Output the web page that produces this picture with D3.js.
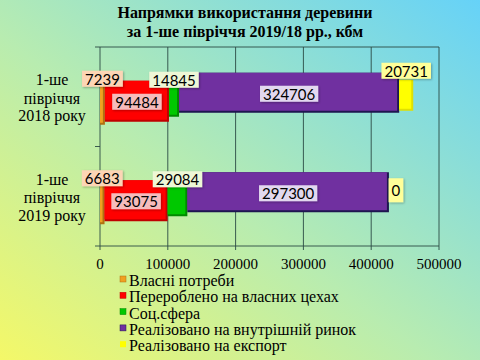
<!DOCTYPE html>
<html><head><meta charset="utf-8">
<script src="https://cdn.jsdelivr.net/npm/d3@7"></script>
<style>html,body{margin:0;padding:0;}svg{display:block;}</style>
</head><body>
<svg id="chart" width="480" height="360"></svg>
<script>
const categories = ["1-ше півріччя 2018 року", "1-ше півріччя 2019 року"];
const seriesNames = ["Власні потреби", "Перероблено на власних цехах", "Соц.сфера", "Реалізовано на внутрішній ринок", "Реалізовано на експорт"];
const ownNeeds   = [7239, 6683];
const processed  = [94484, 93075];
const social     = [14845, 29084];
const domestic   = [324706, 297300];
const exportVals = [20731, 0];
const xTicks = [0, 100000, 200000, 300000, 400000, 500000];
const titleLines = ["Напрямки використання деревини", "за 1-ше півріччя 2019/18 рр., кбм"];

const seriesValues = [ownNeeds, processed, social, domestic, exportVals];
const colors   = ["#f0a020", "#ff0000", "#00c800", "#7030a0", "#ffff00"];
const edges    = ["#b07010", "#c00000", "#008a00", "#1e1650", "#e0e000"];
const lblFill  = ["#fcd5b5", "#f6bcbc", "#eef7d6", "#e2d8ef", "#ffff99"];
// vertical extents (relative to band centre) mimicking the 3D look
const barTop = [-17, -16, -9, -24, -17];
const barBot = [28, 25, 20, 16, 14];
const lblDy  = [-18, 5, -17, -3, -26];

const svg = d3.select("#chart");
const defs = svg.append("defs");
const bg = defs.append("linearGradient").attr("id","bg").attr("x1","0").attr("y1","1").attr("x2","1").attr("y2","0");
bg.append("stop").attr("offset","0").attr("stop-color","#f4f868");
bg.append("stop").attr("offset","0.45").attr("stop-color","#b8ecb0");
bg.append("stop").attr("offset","1").attr("stop-color","#66d2f8");
const sh = defs.append("filter").attr("id","sh").attr("x","-20%").attr("y","-20%").attr("width","140%").attr("height","160%");
sh.append("feDropShadow").attr("dx",1).attr("dy",1).attr("stdDeviation",0.8).attr("flood-color","#000").attr("flood-opacity",0.3);
svg.append("rect").attr("width",480).attr("height",360).attr("fill","url(#bg)");

const x = d3.scaleLinear().domain([0, 500000]).range([100, 439]);
const y = d3.scaleBand().domain(categories).range([47, 246]).padding(0);

// grid
const g = svg.append("g");
g.selectAll("line.grid").data(xTicks).join("line")
  .attr("x1", d => x(d)).attr("x2", d => x(d)).attr("y1", 47).attr("y2", 250)
  .attr("stroke", "#2a4a44").attr("stroke-width", 0.9);
g.append("line").attr("x1", 95).attr("x2", 439).attr("y1", 47).attr("y2", 47).attr("stroke","#2a4a44").attr("stroke-width",0.9);
g.append("line").attr("x1", 95).attr("x2", 439).attr("y1", 246).attr("y2", 246).attr("stroke","#2a4a44").attr("stroke-width",0.9);
g.append("line").attr("x1", 95).attr("x2", 100).attr("y1", y(categories[1])).attr("y2", y(categories[1])).attr("stroke","#2a4a44").attr("stroke-width",0.9);

// tick labels
g.selectAll("text.tick").data(xTicks).join("text")
  .attr("x", d => x(d)).attr("y", 269).attr("text-anchor","middle")
  .attr("font-family","'Liberation Serif', serif").attr("font-size",15).attr("fill","#000")
  .text(d => d);

// category labels
categories.forEach(c => {
  const parts = [c.split(" ")[0], c.split(" ")[1], c.split(" ").slice(2).join(" ")];
  const cy = y(c) + y.bandwidth()/2;
  const t = svg.append("text").attr("text-anchor","middle").attr("font-family","'Liberation Serif', serif").attr("font-size",16).attr("fill","#000");
  [-11.5, 7, 24.5].forEach((dy,i) => t.append("tspan").attr("x",52).attr("y",cy+dy).text(parts[i]));
});

// bars
const bars = svg.append("g");
const labels = svg.append("g");
categories.forEach((c, ci) => {
  const cy = y(c) + y.bandwidth()/2;
  let acc = 0;
  seriesValues.forEach((vals, si) => {
    const v = vals[ci];
    const x0 = x(acc), x1 = x(acc + v);
    acc += v;
    const h = barBot[si] - barTop[si];
    if (v > 0) {
      bars.append("rect").attr("x", x0).attr("y", cy + barTop[si]).attr("width", x1 - x0).attr("height", h)
        .attr("fill", edges[si]);
      bars.append("rect").attr("x", x0).attr("y", cy + barTop[si]).attr("width", Math.max(0, x1 - x0 - 2)).attr("height", h - 2)
        .attr("fill", colors[si]);
    }
    // label
    const txt = String(v);
    let lx = (x0 + x1)/2, ly = cy + lblDy[si], bh = 16;
    if (v === 0) { lx = x1 + 7; ly = cy - 6; bh = 24; }
    const lt = labels.append("text").attr("x", lx).attr("y", ly).attr("text-anchor","middle").attr("dominant-baseline","central")
      .attr("font-family","Lato, 'Open Sans', sans-serif").attr("font-size",15).attr("fill","#000").text(txt);
    const w = lt.node().getComputedTextLength() + 6;
    labels.insert("rect", function(){ return lt.node(); })
      .attr("x", lx - w/2).attr("y", ly - bh/2).attr("width", w).attr("height", bh).attr("fill", lblFill[si])
      .attr("filter","url(#sh)");
  });
});

// title
const tt = svg.append("text").attr("text-anchor","middle").attr("font-family","'Liberation Serif', serif").attr("font-weight","bold").attr("font-size",16).attr("fill","#000");
titleLines.forEach((l,i) => tt.append("tspan").attr("x",245).attr("y",18 + i*19).text(l));

// legend
const lg = svg.append("g");
seriesNames.forEach((n, i) => {
  const by = 286 + i*16.3;
  lg.append("rect").attr("x",120).attr("y",by-10).attr("width",6).attr("height",6).attr("fill",colors[i]).attr("stroke", i===4 ? "none" : edges[i]).attr("stroke-width",0.5);
  lg.append("text").attr("x",129).attr("y",by).attr("font-family","'Liberation Serif', serif").attr("font-size",16).attr("fill","#000").text(n);
});
</script>
</body></html>
